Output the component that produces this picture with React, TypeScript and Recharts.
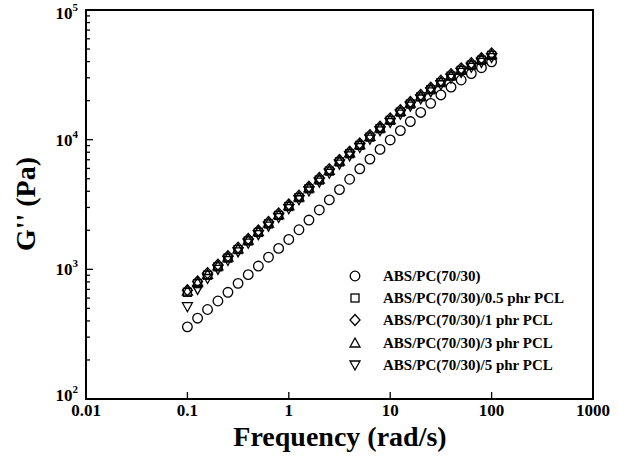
import React from 'react';
import { ScatterChart, Scatter, XAxis, YAxis, ReferenceArea } from 'recharts';

// angular frequency, rad/s (10 points per decade)
const freq = [0.1, 0.126, 0.158, 0.2, 0.251, 0.316, 0.398, 0.501, 0.631, 0.794, 1, 1.26, 1.58, 2, 2.51, 3.16, 3.98, 5.01, 6.31, 7.94, 10, 12.6, 15.8, 20, 25.1, 31.6, 39.8, 50.1, 63.1, 79.4, 100];

// G'' (Pa)
const neat = [360, 420, 490, 570, 665, 780, 910, 1060, 1240, 1450, 1700, 2020, 2400, 2870, 3430, 4120, 4950, 5960, 7080, 8410, 9950, 11750, 13800, 16220, 19050, 22130, 25410, 28840, 32360, 35890, 39810];
const pcl05 = [665, 775, 900, 1045, 1220, 1420, 1655, 1925, 2240, 2605, 3050, 3570, 4180, 4880, 5720, 6730, 7790, 9030, 10460, 12150, 14080, 16310, 18820, 21360, 24240, 27510, 30870, 34240, 37540, 40980, 44620];
const pcl1 = [690, 805, 935, 1085, 1265, 1470, 1715, 1995, 2320, 2700, 3160, 3700, 4330, 5060, 5930, 6970, 8070, 9350, 10840, 12590, 14590, 16900, 19500, 22130, 25120, 28510, 31990, 35480, 38900, 42460, 46240];
const pcl3 = [680, 790, 915, 1065, 1240, 1440, 1680, 1955, 2275, 2645, 3100, 3625, 4245, 4960, 5810, 6830, 7910, 9170, 10620, 12340, 14300, 16560, 19110, 21690, 24620, 27940, 31350, 34770, 38120, 41610, 45310];
const pcl5 = [515, 700, 850, 1000, 1170, 1365, 1590, 1850, 2155, 2510, 2935, 3440, 4020, 4700, 5510, 6480, 7500, 8700, 10080, 11710, 13570, 15720, 18130, 20580, 23360, 26510, 29750, 33000, 36180, 39490, 43000];

const names = ['ABS/PC(70/30)', 'ABS/PC(70/30)/0.5 phr PCL', 'ABS/PC(70/30)/1 phr PCL', 'ABS/PC(70/30)/3 phr PCL', 'ABS/PC(70/30)/5 phr PCL'];
const kinds = ['circle', 'square', 'diamond', 'triangle', 'down'];
const values = [neat, pcl05, pcl1, pcl3, pcl5];

const xTicks = [0.01, 0.1, 1, 10, 100, 1000];
const yTicks = [100, 200, 300, 400, 500, 600, 700, 800, 900, 1000, 2000, 3000, 4000, 5000, 6000, 7000, 8000, 9000, 10000, 20000, 30000, 40000, 50000, 60000, 70000, 80000, 90000, 100000];
const yMajor = [100, 1000, 10000, 100000];

const FONT = "'Liberation Serif', 'Times New Roman', serif";

const Glyph = ({ kind, cx, cy }: { kind: string; cx: number; cy: number }) => {
  const s = { fill: 'none', stroke: '#000', strokeWidth: 1.3 };
  if (kind === 'circle') return <circle cx={cx} cy={cy} r={4.8} {...s} />;
  if (kind === 'square') return <rect x={cx - 4} y={cy - 4} width={8} height={8} {...s} />;
  if (kind === 'diamond')
    return <polygon points={`${cx},${cy - 5.5} ${cx + 5},${cy} ${cx},${cy + 5.5} ${cx - 5},${cy}`} {...s} />;
  if (kind === 'triangle')
    return <polygon points={`${cx},${cy - 5} ${cx + 5},${cy + 4} ${cx - 5},${cy + 4}`} {...s} />;
  return <polygon points={`${cx},${cy + 5} ${cx + 5},${cy - 4} ${cx - 5},${cy - 4}`} {...s} />;
};

const YTick = (props: any) => {
  const { x, y, payload } = props;
  const ax = x + 10; // tickSize 6 + tickMargin 4
  const v = payload.value;
  const major = yMajor.includes(v);
  const exp = Math.round(Math.log10(v));
  // nudge the end labels so they stay clear of the corner / page edge
  const ly = v === 100 ? y - 4 : v === 100000 ? y + 3 : y;
  return (
    <g>
      <line x1={ax} x2={ax + (major ? 7 : 4)} y1={y} y2={y} stroke="#000" strokeWidth={1.3} />
      {major && (
        <text x={ax - 8} y={ly + 6} textAnchor="end" fontFamily={FONT} fontWeight="bold" fontSize={17} fill="#000">
          10<tspan dy={-8} fontSize={11}>{exp}</tspan>
        </text>
      )}
    </g>
  );
};

const XTick = (props: any) => {
  const { x, y, payload } = props;
  const ay = y - 10;
  return (
    <g>
      <line x1={x} x2={x} y1={ay} y2={ay - 7} stroke="#000" strokeWidth={1.3} />
      <text x={x} y={ay + 17} textAnchor="middle" fontFamily={FONT} fontWeight="bold" fontSize={17} fill="#000">
        {String(payload.value)}
      </text>
    </g>
  );
};

const legendRows = [276, 298, 320, 343, 365];

export default function App() {
  return (
    <div style={{ position: 'absolute', left: 0, top: 0, width: 619, height: 468, background: '#fff' }}>
      <ScatterChart width={619} height={468} margin={{ top: 10, right: 26, bottom: 0, left: 0 }}>
        <XAxis
          dataKey="f"
          type="number"
          scale="log"
          domain={[0.01, 1000]}
          ticks={xTicks}
          interval={0}
          allowDataOverflow
          height={69}
          axisLine={false}
          tickLine={false}
          tickSize={6}
          tickMargin={4}
          tick={<XTick />}
        />
        <YAxis
          dataKey="g"
          type="number"
          scale="log"
          domain={[100, 100000]}
          ticks={yTicks}
          interval={0}
          allowDataOverflow
          width={86}
          axisLine={false}
          tickLine={false}
          tickSize={6}
          tickMargin={4}
          tick={<YTick />}
        />
        <ReferenceArea x1={0.01} x2={1000} y1={100} y2={100000} fill="none" stroke="#000" strokeWidth={2} />
        {values.map((vals, i) => (
          <Scatter
            key={names[i]}
            name={names[i]}
            data={freq.map((f, j) => ({ f, g: vals[j] }))}
            isAnimationActive={false}
            shape={(p: any) => <Glyph kind={kinds[i]} cx={p.cx} cy={p.cy} />}
          />
        ))}
      </ScatterChart>
      <svg width={619} height={468} style={{ position: 'absolute', left: 0, top: 0, pointerEvents: 'none' }}>
        <text x={340} y={446} textAnchor="middle" fontFamily={FONT} fontWeight="bold" fontSize={28} fill="#000">
          Frequency (rad/s)
        </text>
        <text
          x={0}
          y={0}
          transform="translate(35,204) rotate(-90)"
          textAnchor="middle"
          fontFamily={FONT}
          fontWeight="bold"
          fontSize={28}
          fill="#000"
        >
          G'' (Pa)
        </text>
        {names.map((n, i) => (
          <g key={n}>
            <Glyph kind={kinds[i]} cx={355} cy={legendRows[i]} />
            <text x={383} y={legendRows[i] + 5} fontFamily={FONT} fontWeight="bold" fontSize={15} fill="#000">
              {n}
            </text>
          </g>
        ))}
      </svg>
    </div>
  );
}
